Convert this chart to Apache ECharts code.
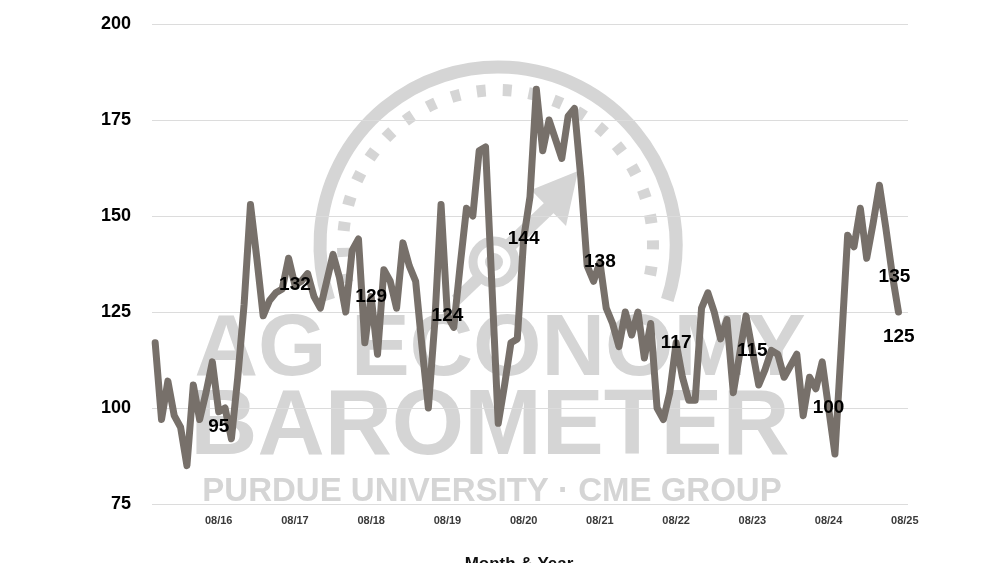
<!DOCTYPE html>
<html><head><meta charset="utf-8">
<script src="https://cdn.jsdelivr.net/npm/echarts@6/dist/echarts.min.js"></script>
<style>html,body{margin:0;padding:0;background:#fff}#c{width:1000px;height:563px}</style>
</head><body><div id="c"></div>
<script>
// Monthly categories, Oct 2015 .. Aug 2025
const months = [
 '10/15','11/15','12/15',
 '01/16','02/16','03/16','04/16','05/16','06/16','07/16','08/16','09/16','10/16','11/16','12/16',
 '01/17','02/17','03/17','04/17','05/17','06/17','07/17','08/17','09/17','10/17','11/17','12/17',
 '01/18','02/18','03/18','04/18','05/18','06/18','07/18','08/18','09/18','10/18','11/18','12/18',
 '01/19','02/19','03/19','04/19','05/19','06/19','07/19','08/19','09/19','10/19','11/19','12/19',
 '01/20','02/20','03/20','04/20','05/20','06/20','07/20','08/20','09/20','10/20','11/20','12/20',
 '01/21','02/21','03/21','04/21','05/21','06/21','07/21','08/21','09/21','10/21','11/21','12/21',
 '01/22','02/22','03/22','04/22','05/22','06/22','07/22','08/22','09/22','10/22','11/22','12/22',
 '01/23','02/23','03/23','04/23','05/23','06/23','07/23','08/23','09/23','10/23','11/23','12/23',
 '01/24','02/24','03/24','04/24','05/24','06/24','07/24','08/24','09/24','10/24','11/24','12/24',
 '01/25','02/25','03/25','04/25','05/25','06/25','07/25','08/25'
];
// Ag Economy Barometer readings
const barometer = [
 117,97,107,
 98,95,85,106,97,104,112,99,100,92,108,127,
 153,139,124,128,130,131,139,132,133,135,129,126,
 133,140,134,125,141,144,117,129,114,136,133,126,
 143,137,133,116,100,122,153,124,121,137,152,150,
 167,168,132,96,106,117,118,144,155,183,167,175,
 170,165,176,178,160,137,133,138,126,122,116,125,
 119,125,113,122,100,97,104,117,108,102,102,126,
 130,125,118,123,104,114,124,115,106,110,115,114,
 108,111,114,98,108,105,112,100,88,116,145,142,
 152,139,148,158,147,135,125
];
const yMin = 75, yMax = 200, yStep = 25;
// Annotated values
const noteMonths = ['08/16','08/17','08/18','08/19','08/20','08/21','08/22','08/23','08/24','07/25','08/25'];
const noteValues = [95,132,129,124,144,138,117,115,100,135,125];

const WM = '#d5d5d5';
const deg = Math.PI / 180;
const chart = echarts.init(document.getElementById('c'), null, {renderer: 'canvas'});
chart.setOption({
  animation: false,
  backgroundColor: '#ffffff',
  grid: {left: 152, right: 92, top: 24, bottom: 59},
  xAxis: {
    type: 'category', data: months, boundaryGap: true,
    axisLine: {show: false}, axisTick: {show: false},
    axisLabel: {
      interval: function (i, v) { return v.slice(0, 2) === '08'; },
      fontFamily: 'Liberation Sans', fontWeight: 'bold', fontSize: 11, color: '#3a3a3a', margin: 11
    }
  },
  yAxis: {
    type: 'value', min: yMin, max: yMax, interval: yStep,
    axisLine: {show: false}, axisTick: {show: false},
    axisLabel: {fontFamily: 'Liberation Sans', fontWeight: 'bold', fontSize: 18, color: '#000', margin: 21},
    splitLine: {lineStyle: {color: '#dcdcdc', width: 1}}
  },
  graphic: [
    {type: 'arc', z: -10, shape: {cx: 498, cy: 245, r: 178, startAngle: 162 * deg, endAngle: 18 * deg, clockwise: true},
      style: {stroke: WM, lineWidth: 13, fill: null}},
    {type: 'arc', z: -10, shape: {cx: 498, cy: 245, r: 155, startAngle: 166 * deg, endAngle: 14 * deg, clockwise: true},
      style: {stroke: WM, lineWidth: 12, fill: null, lineDash: [9, 17]}},
    {type: 'circle', z: -10, shape: {cx: 494, cy: 262, r: 21}, style: {fill: null, stroke: WM, lineWidth: 9}},
    {type: 'circle', z: -10, shape: {cx: 494, cy: 262, r: 9}, style: {fill: WM}},
    {type: 'line', z: -10, shape: {x1: 508, y1: 247, x2: 552, y2: 205}, style: {stroke: WM, lineWidth: 14}},
    {type: 'line', z: -10, shape: {x1: 479, y1: 278, x2: 456, y2: 300}, style: {stroke: WM, lineWidth: 12}},
    {type: 'polygon', z: -10, shape: {points: [[578, 171], [531, 190], [566, 226]]}, style: {fill: WM}},
    {type: 'text', z: -10, x: 500, y: 351, style: {text: 'AG ECONOMY', font: 'bold 88px "Liberation Sans"', fill: WM, align: 'center', verticalAlign: 'middle'}},
    {type: 'text', z: -10, x: 490, y: 428, style: {text: 'BAROMETER', font: 'bold 93px "Liberation Sans"', fill: WM, align: 'center', verticalAlign: 'middle'}},
    {type: 'text', z: -10, x: 492, y: 492, style: {text: 'PURDUE UNIVERSITY · CME GROUP', font: 'bold 33px "Liberation Sans"', fill: WM, align: 'center', verticalAlign: 'middle'}},
    {type: 'text', z: 10, x: 519, y: 564, style: {text: 'Month & Year', font: 'bold 17px "Liberation Sans"', fill: '#111', align: 'center', verticalAlign: 'middle'}}
  ],
  series: [{
    type: 'line', data: barometer, symbol: 'none', z: 3,
    lineStyle: {color: '#77706a', width: 7, join: 'round', cap: 'round'},
    markPoint: {
      symbol: 'circle', symbolSize: 1, itemStyle: {color: 'rgba(0,0,0,0)'},
      label: {show: true, position: 'inside', fontFamily: 'Liberation Sans', fontWeight: 'bold', fontSize: 19, color: '#000',
        formatter: function (p) { return String(p.value); }},
      data: noteMonths.map(function (m, k) {
        const d = {coord: [m, noteValues[k]], value: noteValues[k]};
        if (k === noteMonths.length - 1) d.label = {offset: [-6, 25]};
        if (k === noteMonths.length - 2) d.label = {offset: [-4, 3]};
        return d;
      })
    }
  }]
});
</script></body></html>
